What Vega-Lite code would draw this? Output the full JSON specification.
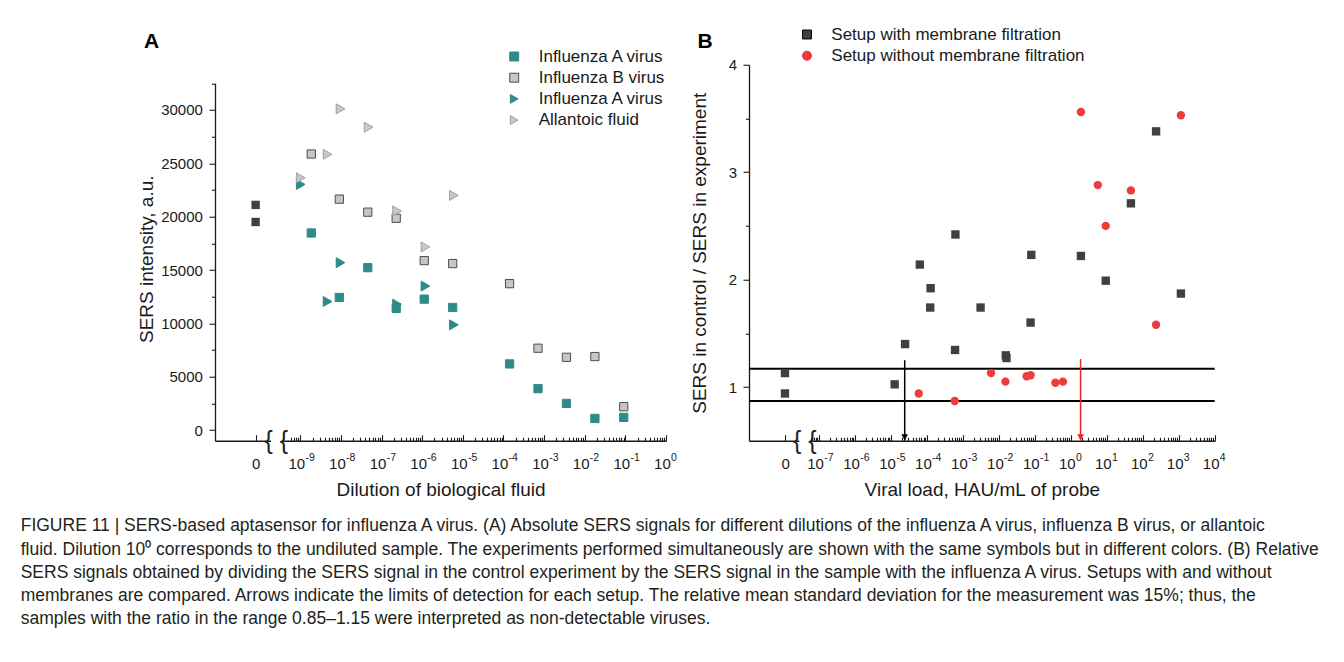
{
  "$schema": "https://vega.github.io/schema/vega-lite/v6.json",
  "padding": {"left": 20, "top": 25.75, "right": 5, "bottom": 5},
  "background": "white",
  "config": {
    "font": "Liberation Sans",
    "view": {"stroke": null},
    "axis": {"grid": false, "domainColor": "#1a1a1a", "domainWidth": 1.3, "tickColor": "#1a1a1a", "tickWidth": 1.1, "labelColor": "#1a1a1a", "titleColor": "#1a1a1a", "labelFont": "Liberation Sans", "titleFont": "Liberation Sans", "labelFontSize": 15, "titleFontSize": 19, "titleFontWeight": "normal", "labelFlush": false, "labelOverlap": false, "labelBound": false},
    "legend": {"padding": 0, "labelFont": "Liberation Sans", "labelFontSize": 17, "labelColor": "#1a1a1a", "labelLimit": 400, "rowPadding": 3.2, "symbolStrokeWidth": 1},
    "title": {"font": "Liberation Sans", "color": "#111111"}
  },
  "title": {
    "text": [
      "FIGURE 11 | SERS-based aptasensor for influenza A virus. (A) Absolute SERS signals for different dilutions of the influenza A virus, influenza B virus, or allantoic",
      "fluid. Dilution 10⁰ corresponds to the undiluted sample. The experiments performed simultaneously are shown with the same symbols but in different colors. (B) Relative",
      "SERS signals obtained by dividing the SERS signal in the control experiment by the SERS signal in the sample with the influenza A virus. Setups with and without",
      "membranes are compared. Arrows indicate the limits of detection for each setup. The relative mean standard deviation for the measurement was 15%; thus, the",
      "samples with the ratio in the range 0.85–1.15 were interpreted as non-detectable viruses."
    ],
    "orient": "bottom", "anchor": "start", "frame": "group", "dx": -194.3, "offset": 18,
    "fontSize": 17.5, "fontWeight": "normal", "lineHeight": 23.3, "baseline": "top", "color": "#231f20"
  },
  "bounds": "flush",
  "spacing": 83,
  "resolve": {
    "scale": {"fill": "independent", "stroke": "independent", "shape": "independent", "color": "independent", "size": "independent"},
    "legend": {"fill": "independent", "stroke": "independent", "shape": "independent", "color": "independent", "size": "independent"}
  },
  "hconcat": [
    {
      "width": 451, "height": 376,
      "layer": [
        {
          "data": {"values": [{"x1": -9.72, "x2": -9.46, "y1": -1350, "y2": -650}]},
          "mark": {"type": "rect", "fill": "white"},
          "encoding": {
            "x": {"field": "x1", "type": "quantitative", "scale": {"domain": [-11.1, 0], "zero": false, "nice": false},
              "axis": {"orient": "bottom", "values": [-9.22185, -9.1549, -9.09691, -9.04576, -8.69897, -8.52288, -8.39794, -8.30103, -8.22185, -8.1549, -8.09691, -8.04576, -7.69897, -7.52288, -7.39794, -7.30103, -7.22185, -7.1549, -7.09691, -7.04576, -6.69897, -6.52288, -6.39794, -6.30103, -6.22185, -6.1549, -6.09691, -6.04576, -5.69897, -5.52288, -5.39794, -5.30103, -5.22185, -5.1549, -5.09691, -5.04576, -4.69897, -4.52288, -4.39794, -4.30103, -4.22185, -4.1549, -4.09691, -4.04576, -3.69897, -3.52288, -3.39794, -3.30103, -3.22185, -3.1549, -3.09691, -3.04576, -2.69897, -2.52288, -2.39794, -2.30103, -2.22185, -2.1549, -2.09691, -2.04576, -1.69897, -1.52288, -1.39794, -1.30103, -1.22185, -1.1549, -1.09691, -1.04576, -0.69897, -0.52288, -0.39794, -0.30103, -0.22185, -0.1549, -0.09691, -0.04576], "tickSize": -3.5, "labels": false, "domain": false, "title": null}},
            "x2": {"field": "x2"},
            "y": {"field": "y1", "type": "quantitative", "scale": {"domain": [-1000, 32500], "range": [376, 18.5], "zero": false, "nice": false},
              "axis": {"orient": "left", "values": [2500, 7500, 12500, 17500, 22500, 27500, 32500], "tickSize": 3.5, "labels": false, "domain": false, "title": null}},
            "y2": {"field": "y2"}
          }
        },
        {
          "data": {"values": [{"pos": -10.1, "sers": 21100}, {"pos": -10.1, "sers": 19500}]},
          "mark": {"type": "point", "shape": "square", "filled": true, "size": 70, "color": "#404040", "opacity": 1},
          "encoding": {
            "x": {"field": "pos", "type": "quantitative", "axis": null},
            "y": {"field": "sers", "type": "quantitative", "axis": null}
          }
        },
        {
          "data": {"values": [
            {"series": "IAV_sq", "pos": -8.73, "sers": 18470}, {"series": "IAV_sq", "pos": -8.04, "sers": 12430}, {"series": "IAV_sq", "pos": -7.34, "sers": 15220}, {"series": "IAV_sq", "pos": -6.64, "sers": 11400}, {"series": "IAV_sq", "pos": -5.95, "sers": 12270}, {"series": "IAV_sq", "pos": -5.25, "sers": 11490}, {"series": "IAV_sq", "pos": -3.85, "sers": 6200}, {"series": "IAV_sq", "pos": -3.15, "sers": 3880}, {"series": "IAV_sq", "pos": -2.45, "sers": 2500}, {"series": "IAV_sq", "pos": -1.75, "sers": 1090}, {"series": "IAV_sq", "pos": -1.04, "sers": 1190},
            {"series": "IBV_sq", "pos": -8.73, "sers": 25870}, {"series": "IBV_sq", "pos": -8.04, "sers": 21640}, {"series": "IBV_sq", "pos": -7.34, "sers": 20420}, {"series": "IBV_sq", "pos": -6.64, "sers": 19850}, {"series": "IBV_sq", "pos": -5.95, "sers": 15880}, {"series": "IBV_sq", "pos": -5.25, "sers": 15600}, {"series": "IBV_sq", "pos": -3.85, "sers": 13720}, {"series": "IBV_sq", "pos": -3.15, "sers": 7670}, {"series": "IBV_sq", "pos": -2.45, "sers": 6820}, {"series": "IBV_sq", "pos": -1.75, "sers": 6890}, {"series": "IBV_sq", "pos": -1.04, "sers": 2190}
          ]},
          "mark": {"type": "point", "filled": true, "opacity": 1, "strokeWidth": 1, "size": 68},
          "encoding": {
            "x": {"field": "pos", "type": "quantitative",
              "axis": {"orient": "bottom", "values": [-10.1, -9, -8, -7, -6, -5, -4, -3, -2, -1, 0], "tickSize": -6, "labelPadding": 21.5, "labelAlign": "right", "labelOffset": 4.3, "title": "Dilution of biological fluid", "titleY": 54.5, "titleBaseline": "alphabetic",
                "labelExpr": "datum.value < -9.5 ? '0' : '10'"}},
            "y": {"field": "sers", "type": "quantitative",
              "axis": {"orient": "left", "values": [0, 5000, 10000, 15000, 20000, 25000, 30000], "format": "d", "tickSize": 6, "labelPadding": 6.6, "title": "SERS intensity, a.u.", "titleX": -62.8, "titleY": 194, "titleBaseline": "alphabetic"}},
            "fill": {"field": "series", "type": "nominal", "scale": {"domain": ["IAV_sq", "IBV_sq", "IAV_tri", "AF_tri"], "range": ["#2e8b87", "#c6c6c6", "#2e8b87", "#c8c8c8"]},
              "legend": {"title": null, "orient": "none", "legendX": 290.7, "legendY": -16.75, "labelOffset": 16, "symbolSize": 80,
                "labelExpr": "datum.value == 'IBV_sq' ? 'Influenza B virus' : datum.value == 'AF_tri' ? 'Allantoic fluid' : 'Influenza A virus'"}},
            "stroke": {"field": "series", "type": "nominal", "scale": {"domain": ["IAV_sq", "IBV_sq", "IAV_tri", "AF_tri"], "range": ["#2e8b87", "#4d4d4d", "#2e8b87", "#a0a0a0"]},
              "legend": {"title": null, "orient": "none", "legendX": 290.7, "legendY": -16.75, "labelOffset": 16, "symbolSize": 80,
                "labelExpr": "datum.value == 'IBV_sq' ? 'Influenza B virus' : datum.value == 'AF_tri' ? 'Allantoic fluid' : 'Influenza A virus'"}},
            "shape": {"field": "series", "type": "nominal", "scale": {"domain": ["IAV_sq", "IBV_sq", "IAV_tri", "AF_tri"], "range": ["square", "square", "triangle-right", "triangle-right"]},
              "legend": {"title": null, "orient": "none", "legendX": 290.7, "legendY": -16.75, "labelOffset": 16, "symbolSize": 80,
                "labelExpr": "datum.value == 'IBV_sq' ? 'Influenza B virus' : datum.value == 'AF_tri' ? 'Allantoic fluid' : 'Influenza A virus'"}}
          }
        },
        {
          "data": {"values": [
            {"series": "IAV_tri", "pos": -8.99, "sers": 23020}, {"series": "IAV_tri", "pos": -8.33, "sers": 12050}, {"series": "IAV_tri", "pos": -8.01, "sers": 15690}, {"series": "IAV_tri", "pos": -6.62, "sers": 11800}, {"series": "IAV_tri", "pos": -5.92, "sers": 13490}, {"series": "IAV_tri", "pos": -5.22, "sers": 9860},
            {"series": "AF_tri", "pos": -8.99, "sers": 23640}, {"series": "AF_tri", "pos": -8.33, "sers": 25840}, {"series": "AF_tri", "pos": -8.01, "sers": 30100}, {"series": "AF_tri", "pos": -7.32, "sers": 28380}, {"series": "AF_tri", "pos": -6.62, "sers": 20540}, {"series": "AF_tri", "pos": -5.92, "sers": 17160}, {"series": "AF_tri", "pos": -5.22, "sers": 21990}
          ]},
          "mark": {"type": "point", "filled": true, "opacity": 1, "strokeWidth": 1, "size": 100},
          "encoding": {
            "x": {"field": "pos", "type": "quantitative", "axis": null},
            "y": {"field": "sers", "type": "quantitative", "axis": null},
            "fill": {"field": "series", "type": "nominal",
              "legend": {"title": null, "orient": "none", "legendX": 290.7, "legendY": -16.75, "labelOffset": 16, "symbolSize": 80,
                "labelExpr": "datum.value == 'IBV_sq' ? 'Influenza B virus' : datum.value == 'AF_tri' ? 'Allantoic fluid' : 'Influenza A virus'"}},
            "stroke": {"field": "series", "type": "nominal",
              "legend": {"title": null, "orient": "none", "legendX": 290.7, "legendY": -16.75, "labelOffset": 16, "symbolSize": 80,
                "labelExpr": "datum.value == 'IBV_sq' ? 'Influenza B virus' : datum.value == 'AF_tri' ? 'Allantoic fluid' : 'Influenza A virus'"}},
            "shape": {"field": "series", "type": "nominal",
              "legend": {"title": null, "orient": "none", "legendX": 290.7, "legendY": -16.75, "labelOffset": 16, "symbolSize": 80,
                "labelExpr": "datum.value == 'IBV_sq' ? 'Influenza B virus' : datum.value == 'AF_tri' ? 'Allantoic fluid' : 'Influenza A virus'"}}
          }
        },
        {
          "data": {"values": [{"pos": -9.59, "sers": -1000, "t": "{ {"}]},
          "mark": {"type": "text", "fontSize": 25, "color": "#222222", "baseline": "middle", "align": "center"},
          "encoding": {
            "x": {"field": "pos", "type": "quantitative",
              "axis": {"orient": "bottom", "values": [-10.1, -9, -8, -7, -6, -5, -4, -3, -2, -1, 0], "ticks": true, "tickSize": 0, "domain": false, "title": null, "labelFontSize": 10.5, "labelPadding": 12, "labelAlign": "left", "labelOffset": 4.6,
                "labelExpr": "datum.value < -9.5 ? '' : (datum.value < 0 ? '-' : '') + format(abs(round(datum.value)), 'd')"}},
            "y": {"field": "sers", "type": "quantitative", "axis": null},
            "text": {"field": "t"}
          }
        },
        {
          "data": {"values": [{"panel": "A"}]},
          "mark": {"type": "text", "fontSize": 21, "fontWeight": "bold", "color": "#000000", "baseline": "middle", "align": "center"},
          "encoding": {
            "x": {"datum": -12.66, "type": "quantitative", "axis": null},
            "y": {"datum": 36400, "type": "quantitative", "axis": null},
            "text": {"field": "panel"}
          }
        }
      ],
      "resolve": {"axis": {"x": "independent", "y": "independent"}}
    },
    {
      "width": 465.7, "height": 376,
      "layer": [
        {
          "data": {"values": [{"x1": -7.55, "x2": -7.25, "y1": 0.47, "y2": 0.53}]},
          "mark": {"type": "rect", "fill": "white"},
          "encoding": {
            "x": {"field": "x1", "type": "quantitative", "scale": {"domain": [-8.95, 4], "zero": false, "nice": false},
              "axis": {"orient": "bottom", "values": [-7.22185, -7.1549, -7.09691, -7.04576, -6.69897, -6.52288, -6.39794, -6.30103, -6.22185, -6.1549, -6.09691, -6.04576, -5.69897, -5.52288, -5.39794, -5.30103, -5.22185, -5.1549, -5.09691, -5.04576, -4.69897, -4.52288, -4.39794, -4.30103, -4.22185, -4.1549, -4.09691, -4.04576, -3.69897, -3.52288, -3.39794, -3.30103, -3.22185, -3.1549, -3.09691, -3.04576, -2.69897, -2.52288, -2.39794, -2.30103, -2.22185, -2.1549, -2.09691, -2.04576, -1.69897, -1.52288, -1.39794, -1.30103, -1.22185, -1.1549, -1.09691, -1.04576, -0.69897, -0.52288, -0.39794, -0.30103, -0.22185, -0.1549, -0.09691, -0.04576, 0.30103, 0.47712, 0.60206, 0.69897, 0.77815, 0.8451, 0.90309, 0.95424, 1.30103, 1.47712, 1.60206, 1.69897, 1.77815, 1.8451, 1.90309, 1.95424, 2.30103, 2.47712, 2.60206, 2.69897, 2.77815, 2.8451, 2.90309, 2.95424, 3.30103, 3.47712, 3.60206, 3.69897, 3.77815, 3.8451, 3.90309, 3.95424], "tickSize": -3.5, "labels": false, "domain": false, "title": null}},
            "x2": {"field": "x2"},
            "y": {"field": "y1", "type": "quantitative", "scale": {"domain": [0.5, 4], "zero": false, "nice": false},
              "axis": {"orient": "left", "values": [1.5, 2.5, 3.5], "tickSize": 3.5, "labels": false, "domain": false, "title": null}},
            "y2": {"field": "y2"}
          }
        },
        {
          "data": {"values": [{"ratio": 1.17}, {"ratio": 0.87}]},
          "mark": {"type": "rule", "color": "#000000", "strokeWidth": 2},
          "encoding": {"y": {"field": "ratio", "type": "quantitative", "axis": null}}
        },
        {
          "data": {"values": [
            {"setup": "with", "pos": -7.95, "ratio": 1.13}, {"setup": "with", "pos": -7.95, "ratio": 0.94}, {"setup": "with", "pos": -4.9, "ratio": 1.025}, {"setup": "with", "pos": -4.61, "ratio": 1.4}, {"setup": "with", "pos": -4.2, "ratio": 2.14}, {"setup": "with", "pos": -3.9, "ratio": 1.92}, {"setup": "with", "pos": -3.91, "ratio": 1.74}, {"setup": "with", "pos": -3.21, "ratio": 2.42}, {"setup": "with", "pos": -3.22, "ratio": 1.345}, {"setup": "with", "pos": -2.51, "ratio": 1.74}, {"setup": "with", "pos": -1.81, "ratio": 1.295}, {"setup": "with", "pos": -1.79, "ratio": 1.27}, {"setup": "with", "pos": -1.1, "ratio": 2.23}, {"setup": "with", "pos": -1.12, "ratio": 1.6}, {"setup": "with", "pos": 0.28, "ratio": 2.22}, {"setup": "with", "pos": 0.97, "ratio": 1.99}, {"setup": "with", "pos": 1.67, "ratio": 2.71}, {"setup": "with", "pos": 2.37, "ratio": 3.38}, {"setup": "with", "pos": 3.06, "ratio": 1.87},
            {"setup": "without", "pos": -4.23, "ratio": 0.94}, {"setup": "without", "pos": -3.23, "ratio": 0.87}, {"setup": "without", "pos": -2.22, "ratio": 1.13}, {"setup": "without", "pos": -1.82, "ratio": 1.05}, {"setup": "without", "pos": -1.23, "ratio": 1.1}, {"setup": "without", "pos": -1.12, "ratio": 1.11}, {"setup": "without", "pos": -0.43, "ratio": 1.04}, {"setup": "without", "pos": -0.22, "ratio": 1.05}, {"setup": "without", "pos": 0.28, "ratio": 3.56}, {"setup": "without", "pos": 0.75, "ratio": 2.88}, {"setup": "without", "pos": 0.97, "ratio": 2.5}, {"setup": "without", "pos": 1.67, "ratio": 2.83}, {"setup": "without", "pos": 2.37, "ratio": 1.58}, {"setup": "without", "pos": 3.06, "ratio": 3.53}
          ]},
          "mark": {"type": "point", "filled": true, "opacity": 1, "size": 70, "strokeWidth": 0},
          "encoding": {
            "x": {"field": "pos", "type": "quantitative",
              "axis": {"orient": "bottom", "values": [-7.95, -7, -6, -5, -4, -3, -2, -1, 0, 1, 2, 3, 4], "tickSize": -6, "labelPadding": 21.5, "labelAlign": "right", "labelOffset": 4.3, "title": "Viral load, HAU/mL of probe", "titleY": 54.5, "titleBaseline": "alphabetic",
                "labelExpr": "datum.value < -7.5 ? '0' : '10'"}},
            "y": {"field": "ratio", "type": "quantitative",
              "axis": {"orient": "left", "values": [1, 2, 3, 4], "tickSize": 6, "labelPadding": 6.5, "title": "SERS in control / SERS in experiment", "titleX": -44, "titleBaseline": "alphabetic"}},
            "fill": {"field": "setup", "type": "nominal", "scale": {"domain": ["with", "without"], "range": ["#404040", "#ee3b3b"]},
              "legend": {"title": null, "orient": "none", "legendX": 49.5, "legendY": -38.75, "labelOffset": 15.8, "symbolSize": 80,
                "labelExpr": "datum.value == 'with' ? 'Setup with membrane filtration' : 'Setup without membrane filtration'"}},
            "shape": {"field": "setup", "type": "nominal", "scale": {"domain": ["with", "without"], "range": ["square", "circle"]},
              "legend": {"title": null, "orient": "none", "legendX": 49.5, "legendY": -38.75, "labelOffset": 15.8, "symbolSize": 80,
                "labelExpr": "datum.value == 'with' ? 'Setup with membrane filtration' : 'Setup without membrane filtration'"}}
          }
        },
        {
          "data": {"values": [{"setup": "with", "pos": -4.62, "top": 1.25, "tip": 0.5}, {"setup": "without", "pos": 0.27, "top": 1.26, "tip": 0.5}]},
          "layer": [
            {
              "mark": {"type": "rule", "strokeWidth": 1.5},
              "encoding": {
                "x": {"field": "pos", "type": "quantitative", "axis": null},
                "y": {"field": "top", "type": "quantitative", "axis": null},
                "y2": {"field": "tip"},
                "color": {"field": "setup", "type": "nominal", "scale": {"domain": ["with", "without"], "range": ["#000000", "#ee2222"]}, "legend": null}
              }
            },
            {
              "mark": {"type": "point", "shape": "triangle-down", "filled": true, "size": 45, "opacity": 1, "yOffset": -3.5},
              "encoding": {
                "x": {"field": "pos", "type": "quantitative", "axis": null},
                "y": {"field": "tip", "type": "quantitative", "axis": null},
                "color": {"field": "setup", "type": "nominal", "legend": null}
              }
            }
          ]
        },
        {
          "data": {"values": [{"pos": -7.4, "ratio": 0.5, "t": "{ {"}]},
          "mark": {"type": "text", "fontSize": 25, "color": "#222222", "baseline": "middle", "align": "center"},
          "encoding": {
            "x": {"field": "pos", "type": "quantitative",
              "axis": {"orient": "bottom", "values": [-7.95, -7, -6, -5, -4, -3, -2, -1, 0, 1, 2, 3, 4], "ticks": true, "tickSize": 0, "domain": false, "title": null, "labelFontSize": 10.5, "labelPadding": 12, "labelAlign": "left", "labelOffset": 4.6,
                "labelExpr": "datum.value < -7.5 ? '' : (datum.value < 0 ? '-' : '') + format(abs(round(datum.value)), 'd')"}},
            "y": {"field": "ratio", "type": "quantitative", "axis": null},
            "text": {"field": "t"}
          }
        },
        {
          "data": {"values": [{"panel": "B"}]},
          "mark": {"type": "text", "fontSize": 21, "fontWeight": "bold", "color": "#000000", "baseline": "middle", "align": "center"},
          "encoding": {
            "x": {"datum": -10.17, "type": "quantitative", "axis": null},
            "y": {"datum": 4.21, "type": "quantitative", "axis": null},
            "text": {"field": "panel"}
          }
        }
      ],
      "resolve": {"axis": {"x": "independent", "y": "independent"}}
    }
  ]
}
